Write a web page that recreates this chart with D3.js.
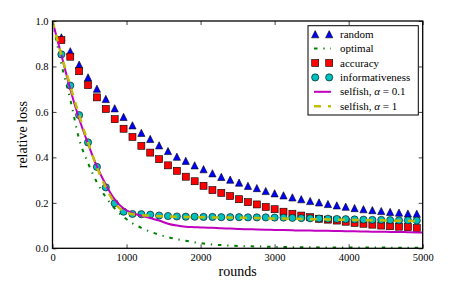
<!DOCTYPE html>
<html>
<head>
<meta charset="utf-8">
<script src="https://cdn.jsdelivr.net/npm/d3@7"></script>
<style>
  body { margin: 0; background: #fff; }
  text { font-family: "Liberation Serif", serif; fill: #000; }
</style>
</head>
<body>
<script>
'use strict';

var width = 450, height = 297;
var margin = {top: 21, right: 27.3, bottom: 48.7, left: 52.5};

// rounds where markers sit
var markerRounds = [120, 240, 360, 480, 600, 720, 840, 960, 1080, 1200,
  1320, 1440, 1560, 1680, 1800, 1920, 2040, 2160, 2280, 2400,
  2520, 2640, 2760, 2880, 3000, 3120, 3240, 3360, 3480, 3600,
  3720, 3840, 3960, 4080, 4200, 4320, 4440, 4560, 4680, 4800, 4920];
// lines start at 0 and end at 5000
var lineRounds = [0].concat(markerRounds, [5000]);

var randomLoss = [0.928, 0.867, 0.808, 0.752, 0.702, 0.657, 0.616, 0.578, 0.541, 0.508,
  0.481, 0.453, 0.428, 0.403, 0.385, 0.365, 0.348, 0.330, 0.314, 0.302,
  0.289, 0.275, 0.265, 0.252, 0.242, 0.233, 0.224, 0.216, 0.208, 0.202,
  0.195, 0.189, 0.183, 0.177, 0.172, 0.168, 0.164, 0.160, 0.157, 0.153, 0.152];

var accuracyLoss = [0.916, 0.843, 0.779, 0.718, 0.664, 0.613, 0.568, 0.526, 0.490, 0.451,
  0.421, 0.392, 0.365, 0.341, 0.315, 0.295, 0.275, 0.256, 0.244, 0.230,
  0.216, 0.203, 0.193, 0.182, 0.172, 0.161, 0.152, 0.144, 0.137, 0.130,
  0.126, 0.122, 0.117, 0.112, 0.108, 0.104, 0.100, 0.097, 0.095, 0.093, 0.089];

var informLoss = [0.853, 0.716, 0.586, 0.466, 0.358, 0.268, 0.198, 0.161, 0.151, 0.150,
  0.148, 0.144, 0.142, 0.140, 0.139, 0.139, 0.138, 0.138, 0.137, 0.137,
  0.137, 0.136, 0.136, 0.136, 0.135, 0.135, 0.134, 0.133, 0.132, 0.131,
  0.130, 0.129, 0.128, 0.127, 0.126, 0.125, 0.125, 0.124, 0.123, 0.123, 0.122];

var optimalLoss = [1.0, 0.81, 0.655, 0.48, 0.375, 0.29, 0.225, 0.175, 0.138, 0.110,
  0.090, 0.073, 0.060, 0.049, 0.040, 0.033, 0.026, 0.021, 0.017, 0.014,
  0.012, 0.010, 0.009, 0.008, 0.007, 0.006, 0.006, 0.005, 0.005, 0.005,
  0.004, 0.004, 0.004, 0.004, 0.003, 0.003, 0.003, 0.003, 0.003, 0.002,
  0.002, 0.002, 0.002];

var selfish01Loss = [1.0, 0.85, 0.70, 0.57, 0.46, 0.36, 0.28, 0.215, 0.175, 0.155,
  0.143, 0.133, 0.122, 0.108, 0.100, 0.095, 0.093, 0.091, 0.090, 0.088,
  0.087, 0.085, 0.084, 0.083, 0.082, 0.081, 0.080, 0.079, 0.078, 0.078,
  0.077, 0.077, 0.076, 0.075, 0.075, 0.074, 0.073, 0.073, 0.072, 0.072,
  0.071, 0.070, 0.070];

var selfish1Loss = [1.0, 0.85, 0.715, 0.585, 0.466, 0.357, 0.268, 0.20, 0.163, 0.150,
  0.146, 0.143, 0.141, 0.140, 0.139, 0.138, 0.137, 0.137, 0.136, 0.135,
  0.135, 0.134, 0.134, 0.133, 0.132, 0.131, 0.131, 0.130, 0.129, 0.128,
  0.128, 0.127, 0.126, 0.126, 0.125, 0.124, 0.123, 0.123, 0.122, 0.121,
  0.121, 0.120, 0.120];

var xTicks = [0, 1000, 2000, 3000, 4000, 5000];
var yTicks = [0.0, 0.2, 0.4, 0.6, 0.8, 1.0];

var legendLabels = ['random', 'optimal', 'accuracy', 'informativeness', 'selfish, ', 'selfish, '];
var legendAlpha = [null, null, null, null, '0.1', '1'];

var svg = d3.select("body").append("svg")
  .attr("width", width)
  .attr("height", height);

var w = width - margin.left - margin.right,
    h = height - margin.top - margin.bottom;

var g = svg.append("g")
  .attr("transform", "translate(" + margin.left + "," + margin.top + ")");

var x = d3.scaleLinear().domain([0, 5000]).range([0, w]);
var y = d3.scaleLinear().domain([0, 1]).range([h, 0]);

g.append("defs").append("clipPath").attr("id", "clip")
  .append("rect").attr("width", w).attr("height", h);

// markers
function triPath(s) { return "M0," + (-s) + "L" + s + "," + s + "L" + (-s) + "," + s + "Z"; }

function drawMarkers(parent, vals, kind, color) {
  var sel = parent.append("g").selectAll("path")
    .data(vals)
    .enter();
  if (kind === 'tri') {
    sel.append("path")
      .attr("d", triPath(3.6))
      .attr("transform", function(d, i) { return "translate(" + x(markerRounds[i]) + "," + y(d) + ")"; })
      .attr("fill", color).attr("stroke", "#000").attr("stroke-width", 0.6);
  } else if (kind === 'sq') {
    sel.append("rect")
      .attr("x", function(d, i) { return x(markerRounds[i]) - 3.5; })
      .attr("y", function(d) { return y(d) - 3.5; })
      .attr("width", 7).attr("height", 7)
      .attr("fill", color).attr("stroke", "#000").attr("stroke-width", 0.6);
  } else {
    sel.append("circle")
      .attr("cx", function(d, i) { return x(markerRounds[i]); })
      .attr("cy", function(d) { return y(d); })
      .attr("r", 3.6)
      .attr("fill", color).attr("stroke", "#000").attr("stroke-width", 0.6);
  }
}

var line = d3.line()
  .x(function(d, i) { return x(lineRounds[i]); })
  .y(function(d) { return y(d); })
  .curve(d3.curveMonotoneX);

var plot = g.append("g").attr("clip-path", "url(#clip)");

drawMarkers(plot, randomLoss, 'tri', '#0000ff');
plot.append("path").attr("d", line(optimalLoss))
  .attr("fill", "none").attr("stroke", "#008000").attr("stroke-width", 2)
  .attr("stroke-dasharray", "3.5,5.8,1.3,5.8");
drawMarkers(plot, accuracyLoss, 'sq', '#ff0000');
drawMarkers(plot, informLoss, 'circ', '#00bfbf');
plot.append("path").attr("d", line(selfish01Loss))
  .attr("fill", "none").attr("stroke", "#bf00bf").attr("stroke-width", 2);
plot.append("path").attr("d", line(selfish1Loss))
  .attr("fill", "none").attr("stroke", "#bfbf00").attr("stroke-width", 2.5)
  .attr("stroke-dasharray", "7,7");

// axes with inward ticks
var axB = g.append("g").attr("transform", "translate(0," + h + ")")
  .call(d3.axisBottom(x).tickValues(xTicks).tickSize(-4).tickPadding(5).tickFormat(d3.format("d")));
var axT = g.append("g")
  .call(d3.axisTop(x).tickValues(xTicks).tickSize(-4).tickFormat(""));
var axL = g.append("g")
  .call(d3.axisLeft(y).tickValues(yTicks).tickSize(-4).tickPadding(4).tickFormat(d3.format(".1f")));
var axR = g.append("g").attr("transform", "translate(" + w + ",0)")
  .call(d3.axisRight(y).tickValues(yTicks).tickSize(-4).tickFormat(""));

[axB, axT, axL, axR].forEach(function(a) {
  a.select(".domain").remove();
  a.selectAll(".tick line").attr("stroke", "#444").attr("stroke-width", 1);
  a.selectAll("text").style("font-size", "10.5px").style("font-family", "Liberation Serif");
});

g.append("rect")
  .attr("width", w).attr("height", h)
  .attr("fill", "none").attr("stroke", "#000").attr("stroke-width", 1.3);

g.append("text")
  .attr("x", w / 2).attr("y", h + 28)
  .attr("text-anchor", "middle")
  .style("font-size", "14px")
  .text("rounds");

g.append("text")
  .attr("transform", "translate(-26," + (h / 2) + ") rotate(-90)")
  .attr("text-anchor", "middle")
  .style("font-size", "14px")
  .text("relative loss");

// legend
var lg = svg.append("g").attr("transform", "translate(308,25.7)");
lg.append("rect")
  .attr("width", 110.3).attr("height", 89.3)
  .attr("fill", "#fff").attr("stroke", "#000").attr("stroke-width", 1);

var rowY = function(i) { return 8.5 + i * 14.4; };
var m1 = 7.2, m2 = 21.2;

legendLabels.forEach(function(lab, i) {
  var row = lg.append("g").attr("transform", "translate(0," + rowY(i) + ")");
  if (i === 0) {
    [m1, m2].forEach(function(mx) {
      row.append("path").attr("d", triPath(3.6)).attr("transform", "translate(" + mx + ",0)")
        .attr("fill", "#0000ff").attr("stroke", "#000").attr("stroke-width", 0.6);
    });
  } else if (i === 1) {
    row.append("line").attr("x1", 6).attr("x2", 23).attr("y1", 0).attr("y2", 0)
      .attr("stroke", "#008000").attr("stroke-width", 2).attr("stroke-dasharray", "3.5,5.8,1.3,5.8");
  } else if (i === 2) {
    [m1, m2].forEach(function(mx) {
      row.append("rect").attr("x", mx - 3.5).attr("y", -3.5).attr("width", 7).attr("height", 7)
        .attr("fill", "#ff0000").attr("stroke", "#000").attr("stroke-width", 0.6);
    });
  } else if (i === 3) {
    [m1, m2].forEach(function(mx) {
      row.append("circle").attr("cx", mx).attr("cy", 0).attr("r", 3.6)
        .attr("fill", "#00bfbf").attr("stroke", "#000").attr("stroke-width", 0.6);
    });
  } else if (i === 4) {
    row.append("line").attr("x1", 6).attr("x2", 23).attr("y1", 0).attr("y2", 0)
      .attr("stroke", "#bf00bf").attr("stroke-width", 2);
  } else {
    row.append("line").attr("x1", 6).attr("x2", 23).attr("y1", 0).attr("y2", 0)
      .attr("stroke", "#bfbf00").attr("stroke-width", 2.5).attr("stroke-dasharray", "7,7");
  }
  var t = row.append("text").attr("x", 32).attr("y", 0).attr("dy", "0.33em")
    .style("font-size", "11px").text(lab);
  if (legendAlpha[i]) {
    t.append("tspan").style("font-style", "italic").text("α");
    t.append("tspan").text(" = " + legendAlpha[i]);
  }
});
</script>
</body>
</html>
